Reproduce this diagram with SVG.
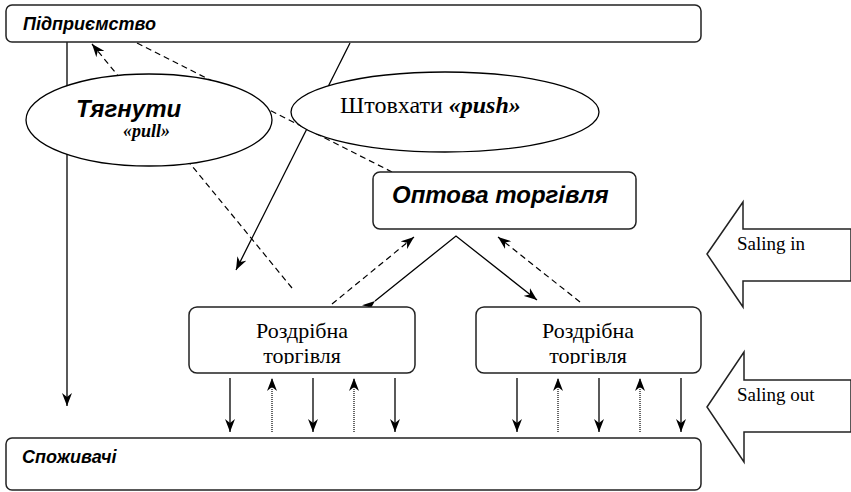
<svg xmlns="http://www.w3.org/2000/svg" width="851" height="492" viewBox="0 0 851 492">
<style>
.box{fill:#fff;stroke:#222;stroke-width:1.5}
.ell{fill:#fff;stroke:#000;stroke-width:1.3}
.ln{fill:none;stroke:#000;stroke-width:1.3}
.dash{fill:none;stroke:#000;stroke-width:1.2;stroke-dasharray:6,4}
.dot{fill:none;stroke:#000;stroke-width:1.2;stroke-dasharray:1,1}
.ha{font-family:"Liberation Sans",Arial,sans-serif;font-weight:bold;font-style:italic;fill:#000}
.tm{font-family:"Liberation Serif","Times New Roman",serif;fill:#000}
.bi{font-weight:bold;font-style:italic}
.blk{fill:#fff;stroke:#222;stroke-width:1.5}
</style>
<defs>
<marker id="ah" markerUnits="userSpaceOnUse" markerWidth="14" markerHeight="10" refX="13" refY="5" orient="auto" viewBox="0 0 14 10">
<path d="M0,0 L13,5 L0,10 L4,5 z" fill="#000"/>
</marker>
<clipPath id="c1"><rect x="180" y="300" width="250" height="64"/></clipPath>
<clipPath id="c2"><rect x="470" y="300" width="250" height="64"/></clipPath>
</defs>
<g id="connectors">
<line class="ln" x1="67" y1="42" x2="67" y2="406" marker-end="url(#ah)"/>
<line class="dash" x1="292" y1="288" x2="92" y2="44" marker-end="url(#ah)"/>
<line class="dash" x1="137" y1="43" x2="392" y2="172"/>
<line class="ln" x1="350" y1="43" x2="236" y2="270" marker-end="url(#ah)"/>
<line class="dash" x1="332" y1="304" x2="414" y2="237" marker-end="url(#ah)"/>
<line class="dash" x1="580" y1="302" x2="498" y2="237" marker-end="url(#ah)"/>
<polyline class="ln" points="375,301 456,236 537,300" marker-start="url(#ah)" marker-end="url(#ah)"/>
<line class="ln" x1="230" y1="378" x2="230" y2="432" marker-end="url(#ah)"/>
<line class="dot" x1="272" y1="432" x2="272" y2="378" marker-end="url(#ah)"/>
<line class="ln" x1="313" y1="378" x2="313" y2="432" marker-end="url(#ah)"/>
<line class="dot" x1="354" y1="432" x2="354" y2="378" marker-end="url(#ah)"/>
<line class="ln" x1="395" y1="378" x2="395" y2="432" marker-end="url(#ah)"/>
<line class="ln" x1="517" y1="378" x2="517" y2="432" marker-end="url(#ah)"/>
<line class="dot" x1="558" y1="432" x2="558" y2="378" marker-end="url(#ah)"/>
<line class="ln" x1="599" y1="378" x2="599" y2="432" marker-end="url(#ah)"/>
<line class="dot" x1="640" y1="432" x2="640" y2="378" marker-end="url(#ah)"/>
<line class="ln" x1="681" y1="378" x2="681" y2="432" marker-end="url(#ah)"/>
</g>
<g id="pidpryiemstvo">
<rect class="box" x="6" y="5" width="695" height="37" rx="6"/>
<text class="ha" x="23" y="30" font-size="18">Підприємство</text>
</g>
<g id="tyahnuty">
<ellipse class="ell" cx="149" cy="120" rx="123" ry="46"/>
<text class="ha" x="76" y="117" font-size="24">Тягнути</text>
<text class="tm bi" x="123" y="137" font-size="18">«pull»</text>
</g>
<g id="shtovkhaty">
<ellipse class="ell" cx="445" cy="112" rx="154" ry="40"/>
<text class="tm" x="340" y="113" font-size="24">Штовхати <tspan class="bi">«push»</tspan></text>
</g>
<g id="optova">
<rect class="box" x="373" y="172" width="263" height="57" rx="7"/>
<text class="ha" x="392" y="203" font-size="24">Оптова торгівля</text>
</g>
<g id="rozdribna1">
<rect class="box" x="189" y="307" width="226" height="66" rx="8"/>
<text class="tm" x="302" y="338" font-size="22" text-anchor="middle">Роздрібна</text>
<text class="tm" x="302" y="363" font-size="22" text-anchor="middle" clip-path="url(#c1)">торгівля</text>
</g>
<g id="rozdribna2">
<rect class="box" x="476" y="307" width="225" height="66" rx="8"/>
<text class="tm" x="588" y="338" font-size="22" text-anchor="middle">Роздрібна</text>
<text class="tm" x="588" y="363" font-size="22" text-anchor="middle" clip-path="url(#c2)">торгівля</text>
</g>
<g id="spozhyvachi">
<rect class="box" x="6" y="438" width="695" height="52" rx="6"/>
<text class="ha" x="22" y="463" font-size="18">Споживачі</text>
</g>
<g id="saling-in">
<polygon class="blk" points="707,254 743,202 743,229 851,229 851,281 743,281 743,307"/>
<text class="tm" x="737" y="250" font-size="19">Saling in</text>
</g>
<g id="saling-out">
<polygon class="blk" points="707,407 744,352 744,380 851,380 851,432 744,432 744,462"/>
<text class="tm" x="737" y="401" font-size="19">Saling out</text>
</g>
</svg>
